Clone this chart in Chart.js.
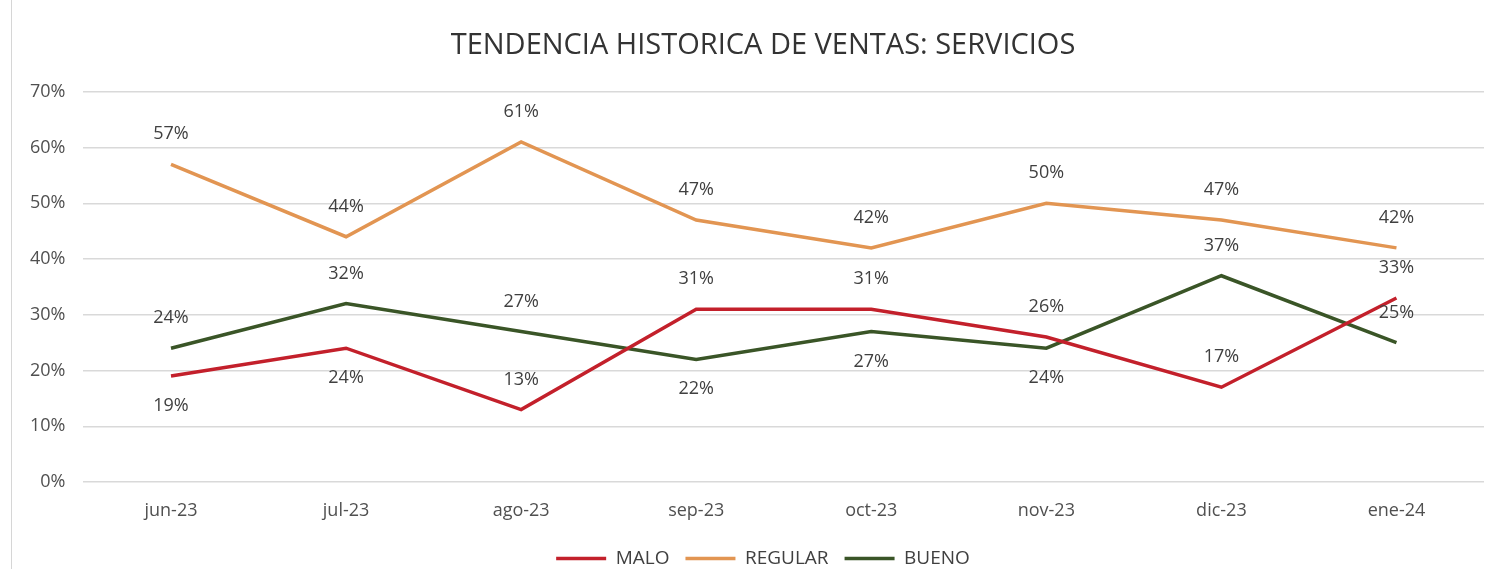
<!DOCTYPE html>
<html>
<head>
<meta charset="utf-8">
<script src="https://cdn.jsdelivr.net/npm/chart.js@4/dist/chart.umd.min.js"></script>
<style>
  html, body { margin: 0; padding: 0; background: #fff; }
  #wrap { position: relative; width: 1494px; height: 569px; }
  #frame { position: absolute; left: 11px; top: 0; width: 1px; height: 569px; background: #d6d6d6; }
  canvas { position: absolute; left: 0; top: 0; }
</style>
</head>
<body>
<div id="wrap"><div id="frame"></div><canvas id="c" width="1494" height="569"></canvas></div>
<script>
const categories = ['jun-23', 'jul-23', 'ago-23', 'sep-23', 'oct-23', 'nov-23', 'dic-23', 'ene-24'];
const malo    = [19, 24, 13, 31, 31, 26, 17, 33];
const regular = [57, 44, 61, 47, 42, 50, 47, 42];
const bueno   = [24, 32, 27, 22, 27, 24, 37, 25];
// label placement: 1 = above, -1 = below
const maloPos    = [-1, -1, 1, 1, 1, 1, 1, 1];
const regularPos = [1, 1, 1, 1, 1, 1, 1, 1];
const buenoPos   = [1, 1, 1, -1, -1, -1, 1, 1];
const yTicks = [0, 10, 20, 30, 40, 50, 60, 70];

const FONT = "'Open Sans', 'Liberation Sans', sans-serif";

const labelPlugin = {
  id: 'pointLabels',
  afterDatasetsDraw(chart) {
    const ctx = chart.ctx;
    ctx.save();
    ctx.font = "18px " + FONT;
    ctx.fillStyle = '#404040';
    ctx.textAlign = 'center';
    ctx.textBaseline = 'middle';
    chart.data.datasets.forEach((ds, di) => {
      const meta = chart.getDatasetMeta(di);
      meta.data.forEach((pt, i) => {
        const dir = ds.labelPos[i];
        ctx.fillText(ds.data[i] + '%', pt.x, pt.y - dir * 30);
      });
    });
    ctx.restore();
  }
};

// shift title and legend boxes slightly right to centre them like the reference
const shiftPlugin = {
  id: 'shiftBoxes',
  afterLayout(chart) {
    const dx = 15;
    [chart.titleBlock, chart.legend].forEach(b => {
      if (b) { b.left += dx; b.right += dx; }
    });
  }
};

new Chart(document.getElementById('c'), {
  type: 'line',
  data: {
    labels: categories,
    datasets: [
      { label: 'MALO', data: malo, labelPos: maloPos, borderColor: '#C3202B', backgroundColor: '#C3202B', borderWidth: 3.5, pointRadius: 0, tension: 0 },
      { label: 'REGULAR', data: regular, labelPos: regularPos, borderColor: '#E29552', backgroundColor: '#E29552', borderWidth: 3.5, pointRadius: 0, tension: 0 },
      { label: 'BUENO', data: bueno, labelPos: buenoPos, borderColor: '#3A5527', backgroundColor: '#3A5527', borderWidth: 3.5, pointRadius: 0, tension: 0 }
    ]
  },
  options: {
    responsive: false,
    animation: false,
    layout: { padding: { left: 12, right: 10, top: 0, bottom: -9 } },
    plugins: {
      title: {
        display: true,
        text: 'TENDENCIA HISTORICA DE VENTAS: SERVICIOS',
        color: '#333333',
        font: { family: FONT, size: 29, weight: 'normal' },
        padding: { top: 28, bottom: 29 }
      },
      legend: {
        position: 'bottom',
        labels: {
          color: '#404040',
          font: { family: FONT, size: 19 },
          usePointStyle: true,
          pointStyle: 'line',
          pointStyleWidth: 50,
          boxWidth: 50,
          padding: 16
        }
      },
      tooltip: { enabled: false }
    },
    scales: {
      x: {
        offset: true,
        grid: { display: false },
        border: { display: false },
        ticks: { color: '#505050', font: { family: FONT, size: 18 }, padding: 10 },
        afterFit(axis) { axis.height = 51; }
      },
      y: {
        min: 0,
        max: 70,
        afterBuildTicks(axis) { axis.ticks = yTicks.map(v => ({ value: v })); },
        grid: { color: '#d9d9d9', lineWidth: 1.5, drawTicks: false },
        border: { display: false },
        ticks: { color: '#505050', font: { family: FONT, size: 18 }, padding: 18, callback: v => v + '%' }
      }
    }
  },
  plugins: [labelPlugin, shiftPlugin]
});
</script>
</body>
</html>
